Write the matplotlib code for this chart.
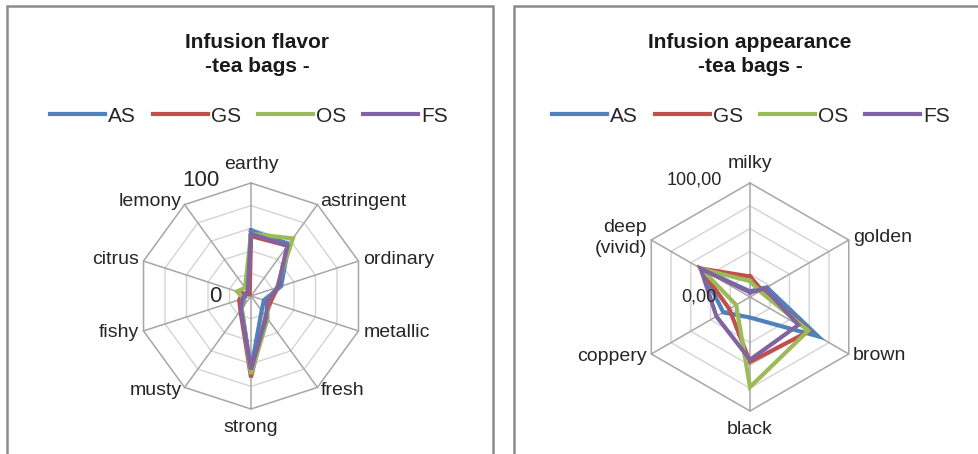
import numpy as np
import matplotlib
matplotlib.use("Agg")
import matplotlib.pyplot as plt
from matplotlib.patches import Rectangle
from matplotlib.lines import Line2D

plt.rcParams["font.family"] = ["Liberation Sans", "DejaVu Sans"]

series = ["AS", "GS", "OS", "FS"]
colors = ["#4F81BD", "#C0504D", "#9BBB59", "#8064A2"]

# Infusion flavor (tea bags), 0-100 scale
flavor_labels = ["earthy", "astringent", "ordinary", "metallic", "fresh",
                 "strong", "musty", "fishy", "citrus", "lemony"]
flavor_AS = [58, 57, 28, 12, 16, 65, 14, 6, 5, 5]
flavor_GS = [53, 55, 25, 18, 22, 72, 16, 11, 8, 2]
flavor_OS = [55, 63, 24, 15, 25, 69, 14, 7, 13, 9]
flavor_FS = [55, 55, 25, 15, 23, 65, 15, 8, 5, 5]

# Infusion appearance (tea bags), 0-100 scale
appearance_labels = ["milky", "golden", "brown", "black", "coppery", "deep\n(vivid)"]
appearance_AS = [5, 17, 69, 18, 27, 49]
appearance_GS = [18, 12, 60, 57, 21, 50]
appearance_OS = [14, 10, 59, 79, 14, 49]
appearance_FS = [4, 15, 49, 55, 34, 50]

W, H = 979, 454
fig = plt.figure(figsize=(W / 100, H / 100), dpi=100)

# panel frames
for x0, x1 in [(7, 493), (514, 985)]:
    fig.patches.append(Rectangle((x0 / W, -0.01), (x1 - x0) / W, (H - 6) / H + 0.01,
                                 transform=fig.transFigure, fill=False,
                                 edgecolor="#8c8c8c", lw=1.8))


def radar(cx, cy, rad, labels, data, top_label, zero_label, tick_fs,
          top_off, zero_off):
    ax = fig.add_axes([(cx - rad) / W, (H - cy - rad) / H, 2 * rad / W, 2 * rad / H],
                      polar=True)
    ax.set_theta_zero_location("N")
    ax.set_theta_direction(-1)
    ax.set_ylim(0, 100)
    ax.set_axis_off()
    n = len(labels)
    ang = np.linspace(0, 2 * np.pi, n, endpoint=False)
    angc = np.append(ang, ang[0])
    for r in [20, 40, 60, 80]:
        ax.plot(angc, [r] * (n + 1), color="#d4d4d4", lw=1.0, clip_on=False)
    ax.plot(angc, [100] * (n + 1), color="#a6a6a6", lw=1.1, clip_on=False)
    for a in ang:
        ax.plot([a, a], [0, 100], color="#a6a6a6", lw=1.1, clip_on=False)
    for vals, col in zip(data, colors):
        v = np.append(vals, vals[0])
        ax.plot(angc, v, color=col, lw=3.0, solid_joinstyle="miter",
                clip_on=False)
    for a, lab in zip(ang, labels):
        s, c = np.sin(a), np.cos(a)
        if abs(s) < 0.1:
            off, ha = (0, 19 * c), "center"
        else:
            off, ha = (5 * s, 4 * c), ("left" if s > 0 else "right")
        ax.annotate(lab, xy=(a, 100), xytext=off, textcoords="offset pixels",
                    ha=ha, va="center", fontsize=14, color="#262626",
                    linespacing=1.35, annotation_clip=False)
    ax.annotate(top_label, xy=(0, 100), xytext=top_off, textcoords="offset pixels",
                ha="right", va="center", fontsize=tick_fs, color="#262626",
                annotation_clip=False)
    ax.annotate(zero_label, xy=(0, 0), xytext=zero_off, textcoords="offset pixels",
                ha="right", va="center", fontsize=tick_fs, color="#262626",
                annotation_clip=False)
    return ax


radar(251, 296, 113, flavor_labels,
      [flavor_AS, flavor_GS, flavor_OS, flavor_FS], "100", "0", 16,
      (-31, 3), (-29, 0))
radar(750, 297, 114, appearance_labels,
      [appearance_AS, appearance_GS, appearance_OS, appearance_FS],
      "100,00", "0,00", 13, (-28, 3), (-33, 0))

titles = [("Infusion flavor", "-tea bags -", 257), ("Infusion appearance", "-tea bags -", 750)]
for t1, t2, x in titles:
    fig.text(x / W, 1 - 43 / H, t1, ha="center", va="center", fontsize=15,
             fontweight="bold", color="#1a1a1a")
    fig.text(x / W, 1 - 67 / H, t2, ha="center", va="center", fontsize=15,
             fontweight="bold", color="#1a1a1a")

handles = [Line2D([], [], color=c, lw=3.0) for c in colors]
for x in [249, 751]:
    fig.legend(handles, series, loc="center", bbox_to_anchor=(x / W, 1 - 116 / H),
               ncol=4, frameon=False, fontsize=15, handlelength=2.65,
               handletextpad=0.15, columnspacing=0.8, labelcolor="#262626")

fig.savefig("out.png", dpi=100)
